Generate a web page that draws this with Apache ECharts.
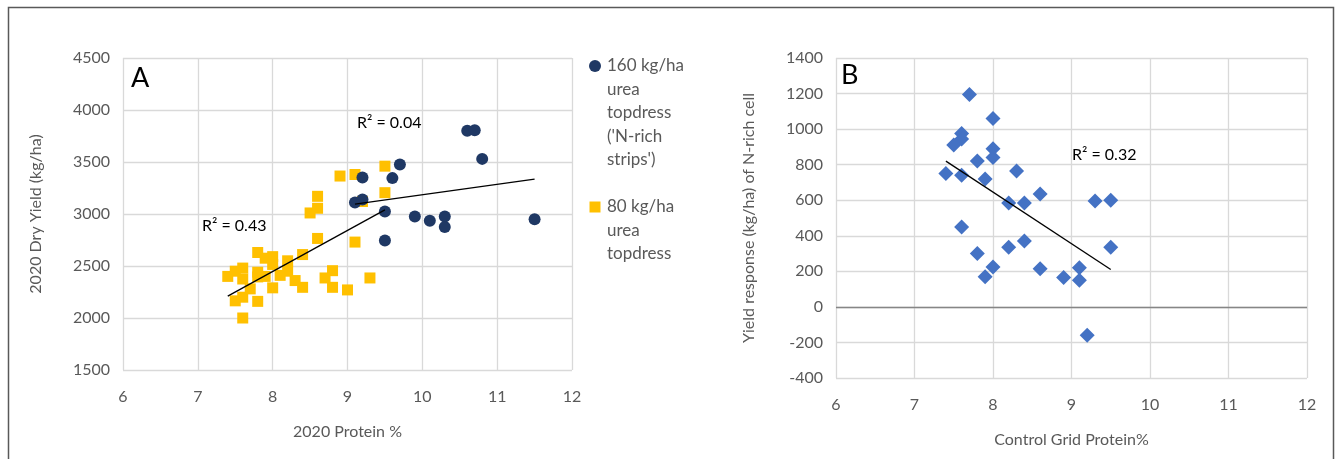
<!DOCTYPE html>
<html>
<head>
<meta charset="utf-8">
<script src="https://cdn.jsdelivr.net/npm/echarts@6/dist/echarts.min.js"></script>
<style>
html,body{margin:0;padding:0;background:#fff;}
#c{width:1340px;height:459px;}
</style>
</head>
<body>
<div id="c"></div>
<script>
// Panel A data: [protein %, dry yield kg/ha]
const urea160 = [
  [10.6,3800],[10.7,3805],[10.8,3530],[9.7,3475],[9.6,3345],[9.2,3350],
  [9.1,3110],[9.2,3140],[9.5,3025],[9.9,2975],[10.1,2935],[10.3,2975],
  [10.3,2875],[9.5,2745],[11.5,2950]
];
const urea80 = [
  [9.5,3460],[8.9,3365],[9.1,3380],[8.6,3170],[8.6,3055],[8.5,3010],
  [9.2,3120],[9.5,3205],[8.6,2765],[9.1,2730],[7.8,2630],[8.0,2590],
  [7.9,2575],[8.2,2550],[8.4,2610],[8.0,2515],[7.6,2480],[7.5,2450],
  [7.4,2400],[7.6,2375],[7.8,2440],[7.8,2395],[7.9,2400],[8.1,2410],
  [8.2,2450],[8.3,2360],[8.4,2295],[8.0,2290],[7.7,2280],[7.6,2200],
  [7.5,2165],[7.8,2160],[7.6,2000],[8.7,2385],[8.8,2455],[8.8,2295],
  [9.0,2270],[9.3,2385]
];
const trend160 = [[9.1,3095],[11.5,3335]];
const trend80 = [[7.4,2210],[9.5,3040]];

// Panel B data: [control grid protein %, yield response kg/ha]
const responseB = [
  [7.7,1195],[8.0,1060],[7.6,975],[7.6,945],[7.5,910],[8.0,890],
  [8.0,840],[7.8,820],[7.4,750],[7.6,740],[7.9,720],[8.3,765],
  [8.6,635],[8.2,585],[8.4,585],[9.3,595],[9.5,600],[7.6,450],
  [7.8,300],[8.0,225],[7.9,170],[8.2,335],[8.4,370],[8.6,215],
  [8.9,165],[9.1,220],[9.1,150],[9.5,335],[9.2,-160]
];
const trendB = [[7.4,820],[9.5,210]];

const xTicksA = {min:6, max:12, interval:1};
const yTicksA = {min:1500, max:4500, interval:500};
const xTicksB = {min:6, max:12, interval:1};
const yTicksB = {min:-400, max:1400, interval:200};

const FONT = 'Lato, "Open Sans", sans-serif';
const GRAY = '#595959';
const GRID = '#d9d9d9';

const chart = echarts.init(document.getElementById('c'));

const plain = v => String(v);

function xAxisCfg(idx, ticks, name){
  return {
    type:'value', gridIndex:idx, min:ticks.min, max:ticks.max, interval:ticks.interval,
    name:name, nameLocation:'middle', nameGap:54,
    nameTextStyle:{color:GRAY, fontSize:16, fontFamily:FONT},
    axisLine:{show:false}, axisTick:{show:false},
    axisLabel:{color:GRAY, fontSize:16, fontFamily:FONT, margin:19, formatter:plain},
    splitLine:{show:true, lineStyle:{color:GRID, width:1.3}}
  };
}
function yAxisCfg(idx, ticks, name, gap){
  return {
    type:'value', gridIndex:idx, min:ticks.min, max:ticks.max, interval:ticks.interval,
    name:name, nameLocation:'middle', nameGap:gap,
    nameTextStyle:{color:GRAY, fontSize:16, fontFamily:FONT},
    axisLine:{show:false}, axisTick:{show:false},
    axisLabel:{color:GRAY, fontSize:16, fontFamily:FONT, margin:13, formatter:plain},
    splitLine:{show:true, lineStyle:{color:GRID, width:1.3}}
  };
}

const legendTextStyle = {fill:GRAY, font:'17px ' + FONT, lineHeight:23.5};

chart.setOption({
  animation:false,
  backgroundColor:'#fff',
  grid:[
    {left:123, top:58, width:449, height:312},
    {left:836, top:58, width:471, height:320}
  ],
  xAxis:[
    xAxisCfg(0, xTicksA, '2020 Protein %'),
    xAxisCfg(1, xTicksB, 'Control Grid Protein%')
  ],
  yAxis:[
    yAxisCfg(0, yTicksA, '2020 Dry Yield (kg/ha)', 79),
    yAxisCfg(1, yTicksB, 'Yield response (kg/ha) of N-rich cell', 79)
  ],
  series:[
    {name:'80 kg/ha urea topdress', type:'scatter', xAxisIndex:0, yAxisIndex:0,
     data:urea80, symbol:'rect', symbolSize:11, itemStyle:{color:'#ffc000', opacity:1}, z:3},
    {name:"160 kg/ha urea topdress ('N-rich strips')", type:'scatter', xAxisIndex:0, yAxisIndex:0,
     data:urea160, symbol:'circle', symbolSize:12, itemStyle:{color:'#1f3864', opacity:1}, z:4},
    {type:'line', xAxisIndex:0, yAxisIndex:0, data:trend80, symbol:'none',
     lineStyle:{color:'#000', width:1.3}, z:5, silent:true},
    {type:'line', xAxisIndex:0, yAxisIndex:0, data:trend160, symbol:'none',
     lineStyle:{color:'#000', width:1.3}, z:5, silent:true},
    {type:'scatter', xAxisIndex:1, yAxisIndex:1, data:responseB,
     symbol:'diamond', symbolSize:[15,15], itemStyle:{color:'#4472c4', opacity:1}, z:4,
     markLine:{silent:true, symbol:'none', label:{show:false},
       lineStyle:{color:'#868686', width:1.3, type:'solid'},
       data:[{yAxis:0}]}},
    {type:'line', xAxisIndex:1, yAxisIndex:1, data:trendB, symbol:'none',
     lineStyle:{color:'#000', width:1.3}, z:5, silent:true}
  ],
  graphic:[
    {type:'rect', shape:{x:8.5, y:7.5, width:1325, height:470},
     style:{fill:'none', stroke:'#595959', lineWidth:1.5}, silent:true},
    {type:'text', left:131, top:65, style:{text:'A', fill:'#000', font:'27px ' + FONT}},
    {type:'text', left:841, top:62, style:{text:'B', fill:'#000', font:'27px ' + FONT}},
    {type:'text', left:202, top:218, style:{text:'R² = 0.43', fill:'#000', font:'16px ' + FONT}},
    {type:'text', left:357, top:115, style:{text:'R² = 0.04', fill:'#000', font:'16px ' + FONT}},
    {type:'text', left:1072, top:147, style:{text:'R² = 0.32', fill:'#000', font:'16px ' + FONT}},
    {type:'circle', shape:{cx:595, cy:66, r:6}, style:{fill:'#1f3864'}},
    {type:'text', left:607, top:54, style:Object.assign({text:"160 kg/ha\nurea\ntopdress\n('N-rich\nstrips')"}, legendTextStyle)},
    {type:'rect', shape:{x:589.5, y:201.5, width:11, height:11}, style:{fill:'#ffc000'}},
    {type:'text', left:607, top:195, style:Object.assign({text:"80 kg/ha\nurea\ntopdress"}, legendTextStyle)}
  ]
});
</script>
</body>
</html>
